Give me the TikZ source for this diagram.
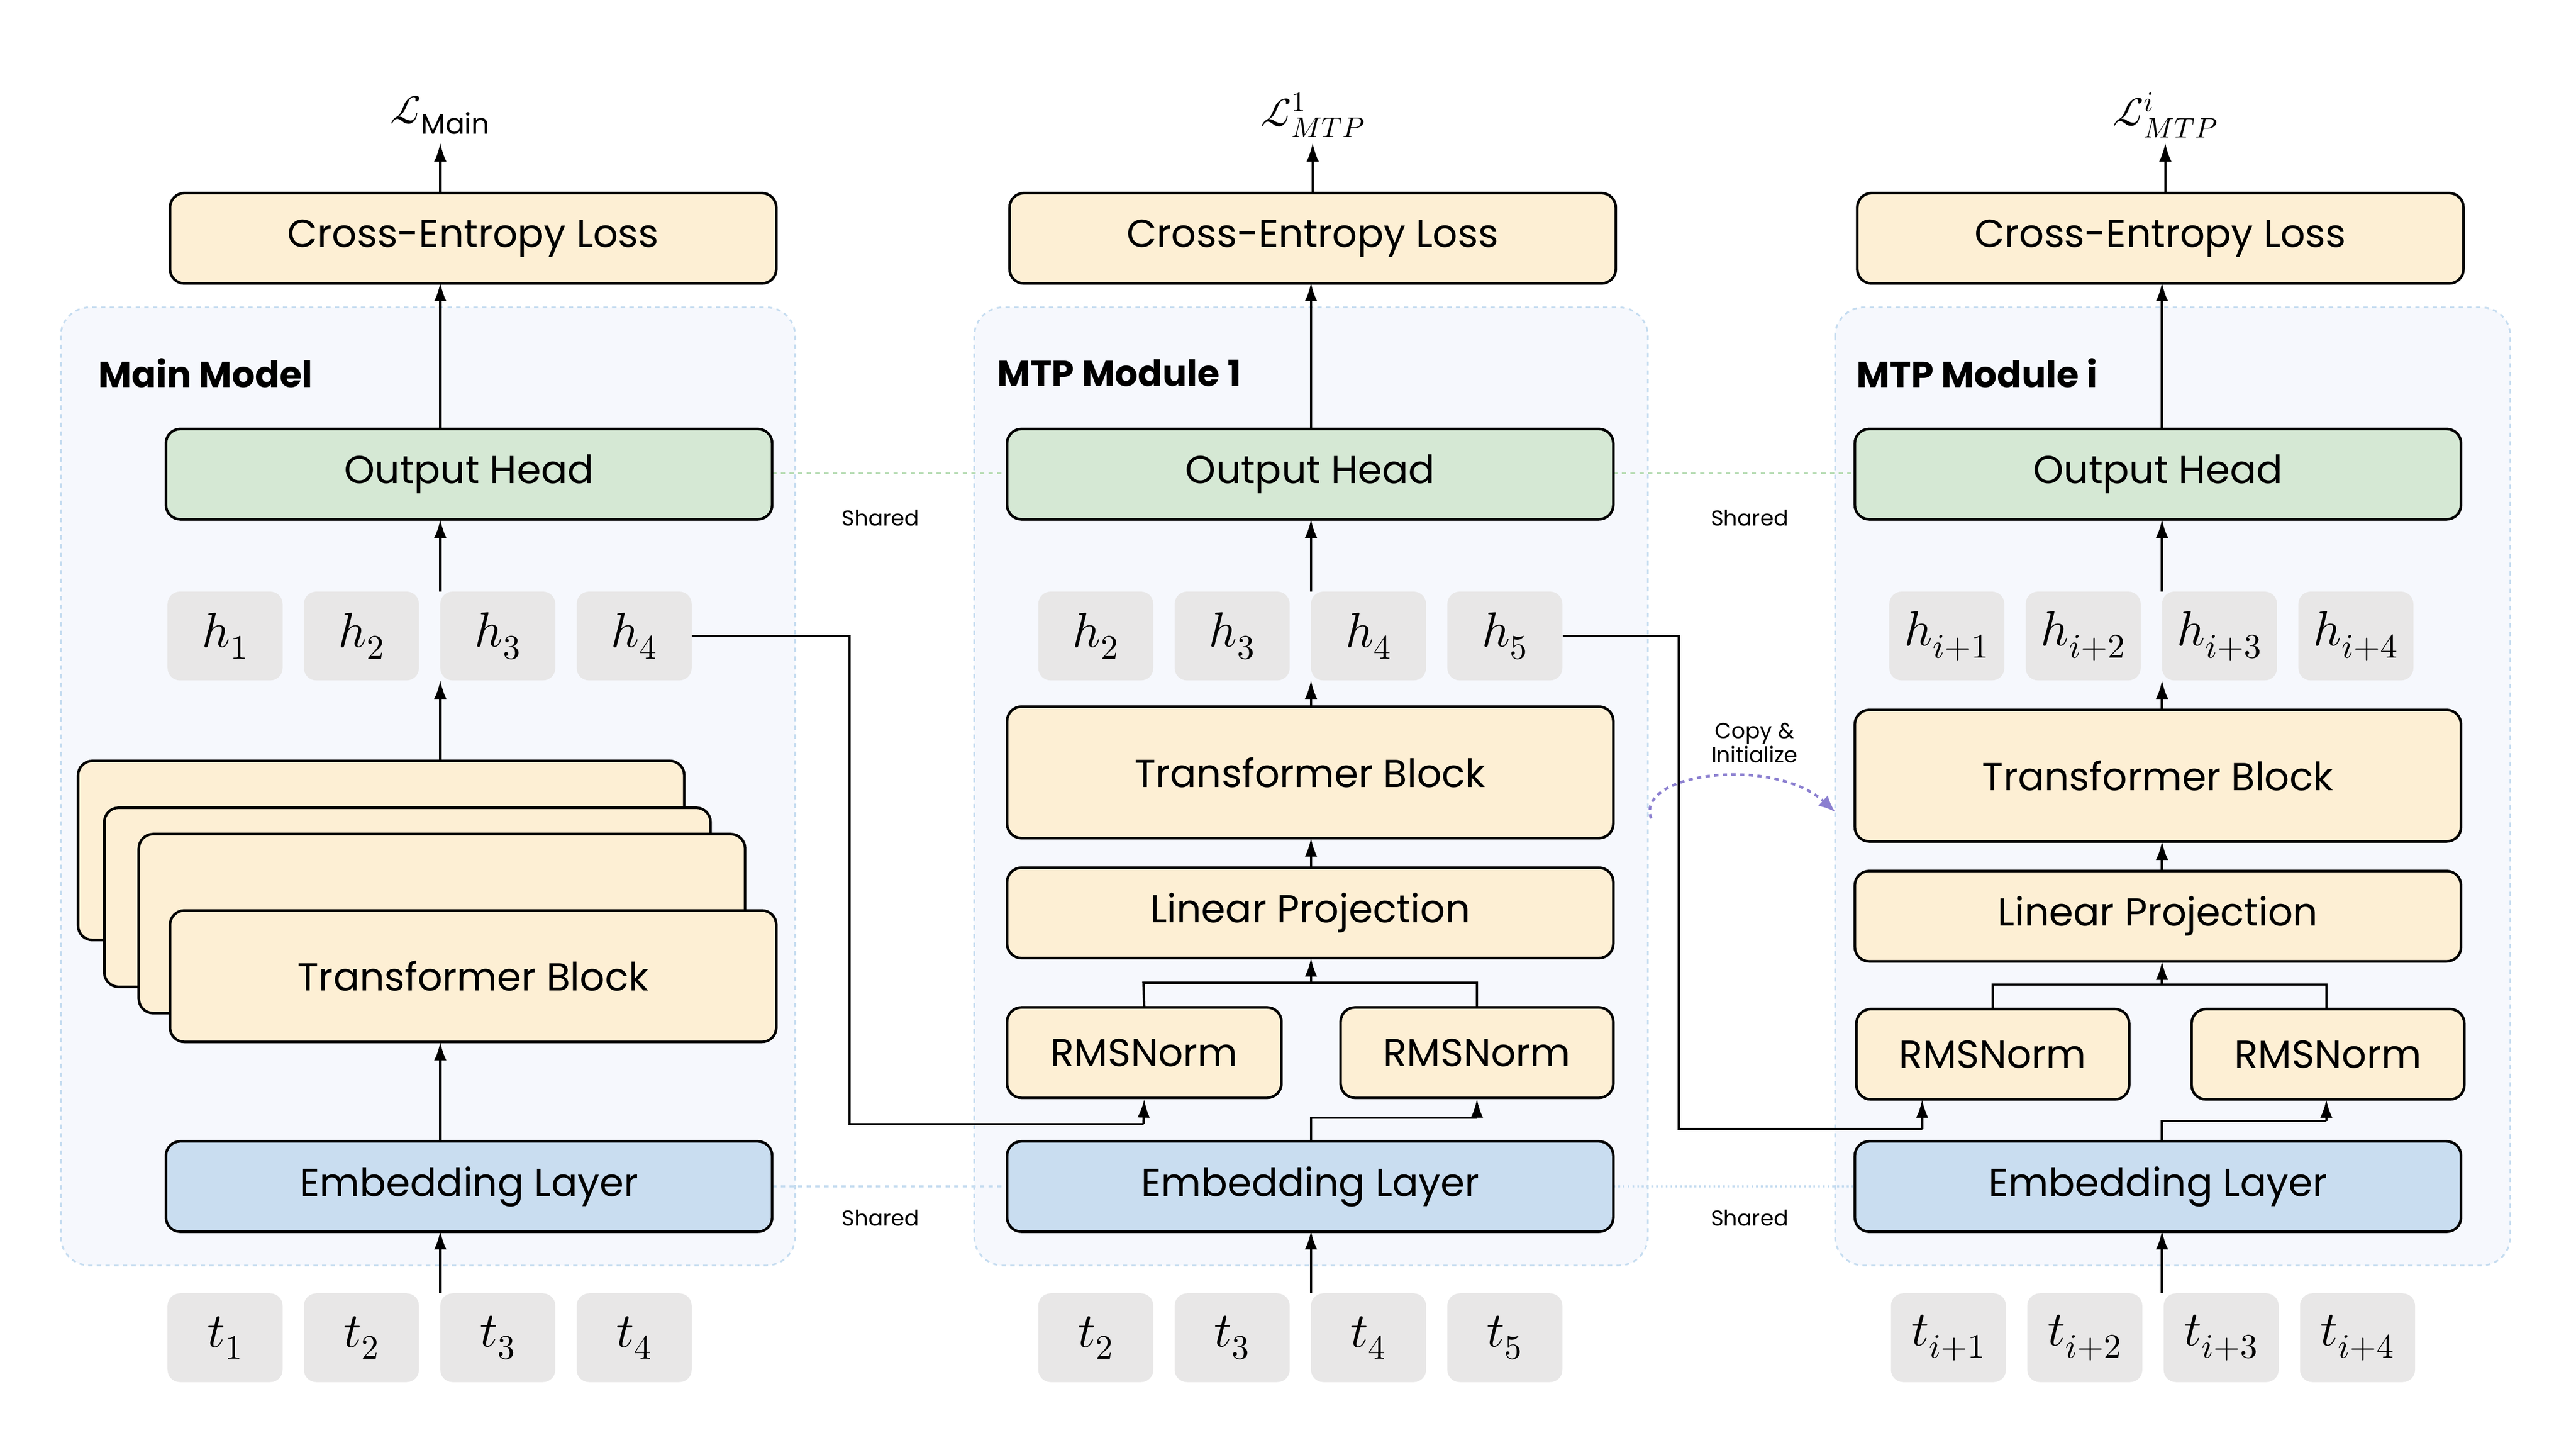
\documentclass[tikz,border=0pt]{standalone}
\usepackage{fontspec}
\usepackage{unicode-math}
\setmainfont{Poppins}
\setmathfont{Latin Modern Math}
\usetikzlibrary{arrows.meta}
\definecolor{cfill}{HTML}{F6F8FD}
\definecolor{cbord}{HTML}{C5DCF0}
\definecolor{yel}{HTML}{FDEFD4}
\definecolor{grn}{HTML}{D5E8D4}
\definecolor{grnl}{HTML}{B9DDB6}
\definecolor{blu}{HTML}{C9DDF0}
\definecolor{gry}{HTML}{E8E7E7}
\definecolor{purp}{HTML}{8B7FD0}
\tikzset{
 cont/.style={draw=cbord,fill=cfill,dashed,line width=1.2pt,rounded corners=7mm},
 bbox/.style={draw=black,line width=1.8pt,rounded corners=3.5mm,font=\fontsize{27}{30}\selectfont,minimum width=147.6mm,minimum height=22mm,inner sep=0pt},
 ybox/.style={bbox,fill=yel},
 gbox/.style={bbox,fill=grn},
 ebox/.style={bbox,fill=blu},
 tok/.style={fill=gry,rounded corners=3mm,minimum width=28mm,minimum height=21.6mm,inner sep=0pt,font=\fontsize{34}{36}\selectfont},
 arr/.style={line width=1.6pt,-{Latex[length=4.5mm,width=3mm]}},
 ln/.style={line width=1.6pt},
 lbl/.style={font=\fontsize{15}{17}\selectfont},
 ttl/.style={font=\bfseries\fontsize{25}{28}\selectfont,anchor=west},
 shareg/.style={draw=grnl,dashed,line width=1.3pt},
 shareb/.style={draw=cbord,dashed,line width=1.3pt},
 lossl/.style={font=\fontsize{28}{30}\selectfont},
}
\begin{document}
\begin{tikzpicture}[x=0.4mm,y=-0.4mm]
\useasboundingbox[fill=white] (0,0) rectangle (1568,882);
% containers
\draw[cont] (37,187) rectangle (484,770);
\draw[cont] (593,187) rectangle (1003,770);
\draw[cont] (1117,187) rectangle (1528,770);
\node[ttl] (t1) at (57,227) {Main Model};
\node[ttl] (t2) at (604,227) {MTP Module 1};
\node[ttl] (t3) at (1127,227) {MTP Module i};
% shared lines
\draw[shareg] (470,288) -- (613,288);
\draw[shareg] (982,288) -- (1129,288);
\draw[shareb] (470,722) -- (613,722);
\draw[shareb,dotted] (982,722) -- (1129,722);
\node[lbl] (s1) at (536,315) {Shared};
\node[lbl] (s2) at (1065,315) {Shared};
\node[lbl] (s3) at (536,741) {Shared};
\node[lbl] (s4) at (1065,741) {Shared};
% ===== Main
\node[ybox] (ce0) at (288,145) {Cross-Entropy Loss};
\node[lossl] (L0) at (268,70) {$\mathcal{L}_{\mathrm{Main}}$};
\node[gbox] (oh0) at (285.5,288.5) {Output Head};
\foreach \i/\x in {1/137,2/220,3/303,4/386}{\node[tok] (h0\i) at (\x,387) {$h_{\i}$};}
\foreach \i/\x in {1/137,2/220,3/303,4/386}{\node[tok] (tt0\i) at (\x,814) {$t_{\i}$};}
\node[ybox,minimum height=43.6mm] (st1) at (232,517.5) {};
\node[ybox,minimum height=43.6mm] (st2) at (248,546) {};
\node[ybox,minimum height=43.6mm] (st3) at (269,562) {};
\node[ybox,minimum height=32mm] (tb0) at (288,594) {Transformer Block};
\node[ebox] (em0) at (285.5,722) {Embedding Layer};
\draw[arr] (268,787) -- (268,749);
\draw[arr] (268,695) -- (268,634);
\draw[arr] (268,463) -- (268,414);
\draw[arr] (268,360) -- (268,316);
\draw[arr] (268,261) -- (268,172);
\draw[arr] (268,118) -- (268,87);
% ===== MTP 1
\node[ybox] (ce1) at (799,145) {Cross-Entropy Loss};
\node[lossl] (L1) at (799,70) {$\mathcal{L}^{1}_{MTP}$};
\node[gbox] (oh1) at (797.5,288.5) {Output Head};
\foreach \i/\n/\x in {1/2/667,2/3/750,3/4/833,4/5/916}{\node[tok] (h1\i) at (\x,387) {$h_{\n}$};}
\foreach \i/\n/\x in {1/2/667,2/3/750,3/4/833,4/5/916}{\node[tok] (tt1\i) at (\x,814) {$t_{\n}$};}
\node[ybox,minimum height=32mm] (tb1) at (797.5,470) {Transformer Block};
\node[ybox] (lp1) at (797.5,555.5) {Linear Projection};
\node[ybox,minimum width=66.8mm] (rl1) at (696.5,640.5) {RMSNorm};
\node[ybox,minimum width=66.4mm] (rr1) at (899,640.5) {RMSNorm};
\node[ebox] (em1) at (797.5,722) {Embedding Layer};
\draw[arr] (798,787) -- (798,749);
\draw[ln] (798,695) -- (798,680) -- (899,680);
\draw[arr] (899,680) -- (rr1.south);
\draw[ln] (rl1.north) -- (696,598) -- (899,598) -- (rr1.north);
\draw[arr] (798,598) -- (798,583);
\draw[arr] (798,528) -- (798,510);
\draw[arr] (798,430) -- (798,414);
\draw[arr] (798,360) -- (798,316);
\draw[arr] (798,261) -- (798,172);
\draw[arr] (799,118) -- (799,87);
% h4 main -> RMSNorm left MTP1
\draw[ln] (h04.east) -- (517,387) -- (517,684) -- (696,684);
\draw[arr] (696,684) -- (rl1.south);
% ===== MTP i
\node[ybox] (ce2) at (1315,145) {Cross-Entropy Loss};
\node[lossl] (L2) at (1318,70) {$\mathcal{L}^{i}_{MTP}$};
\node[gbox] (oh2) at (1313.5,288.5) {Output Head};
\foreach \i/\n/\x in {1/{i+1}/1185,2/{i+2}/1268,3/{i+3}/1351,4/{i+4}/1434}{\node[tok] (h2\i) at (\x,387) {$h_{\n}$};}
\foreach \i/\n/\x in {1/{i+1}/1186,2/{i+2}/1269,3/{i+3}/1352,4/{i+4}/1435}{\node[tok] (tt2\i) at (\x,814) {$t_{\n}$};}
\node[ybox,minimum height=32mm] (tb2) at (1313.5,472) {Transformer Block};
\node[ybox] (lp2) at (1313.5,557.5) {Linear Projection};
\node[ybox,minimum width=66.4mm] (rl2) at (1213,641.5) {RMSNorm};
\node[ybox,minimum width=66.4mm] (rr2) at (1417,641.5) {RMSNorm};
\node[ebox] (em2) at (1313.5,722) {Embedding Layer};
\draw[arr] (1316,787) -- (1316,749);
\draw[ln] (1316,695) -- (1316,682) -- (1416,682);
\draw[arr] (1416,682) -- (1416,669);
\draw[ln] (rl2.north) -- (1213,599) -- (1416,599) -- (1416,614);
\draw[arr] (1316,599) -- (1316,585);
\draw[arr] (1316,530) -- (1316,512);
\draw[arr] (1316,432) -- (1316,414);
\draw[arr] (1316,360) -- (1316,316);
\draw[arr] (1316,261) -- (1316,172);
\draw[arr] (1318,118) -- (1318,87);
% h5 MTP1 -> RMSNorm left MTPi
\draw[ln] (h14.east) -- (1022,387) -- (1022,687) -- (1170,687);
\draw[arr] (1170,687) -- (1170,669);
% copy & initialize
\node[lbl,align=center] (ci) at (1068,452) {Copy \&\\Initialize};
\coordinate (ca) at (1005,498);
\coordinate (cb) at (1117,494);
\draw[purp,dashed,line width=1.8pt,-{Latex[length=4mm,width=3.5mm]}] (ca) .. controls (995,470) and (1080,460) .. (cb);
\end{tikzpicture}
\end{document}
